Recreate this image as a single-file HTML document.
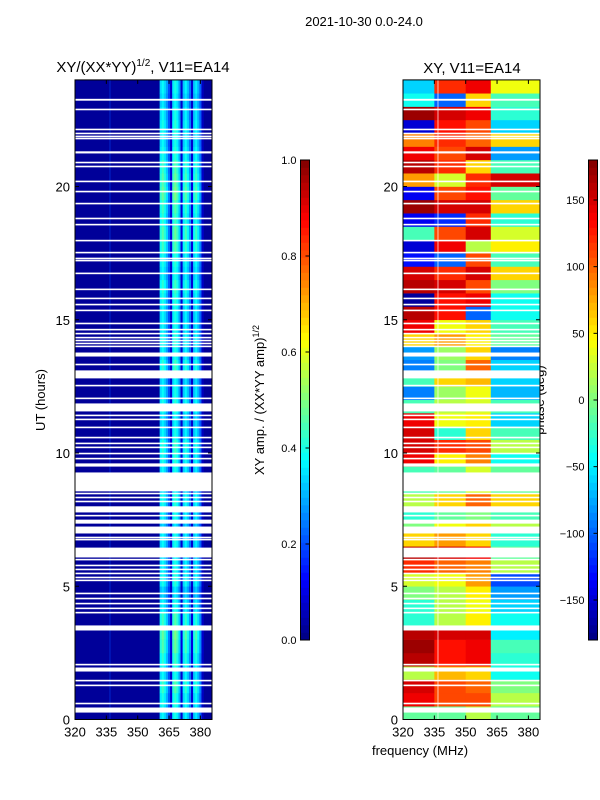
<!DOCTYPE html>
<html><head><meta charset="utf-8"><style>
body{margin:0;background:#fff;}
svg{display:block;font-family:"Liberation Sans",sans-serif;}
</style></head><body>
<svg id="fig" width="600" height="800" xmlns="http://www.w3.org/2000/svg">
<text x="364" y="26" font-size="13" text-anchor="middle">2021-10-30 0.0-24.0</text>
<text x="143" y="72" font-size="15" text-anchor="middle">XY/(XX*YY)<tspan font-size="10" dy="-6">1/2</tspan><tspan dy="6">, V11=EA14</tspan></text>
<text x="472" y="73" font-size="15" text-anchor="middle">XY, V11=EA14</text>
<text transform="translate(45,400) rotate(-90)" font-size="13" text-anchor="middle">UT (hours)</text>
<text x="420" y="755" font-size="13" text-anchor="middle">frequency (MHz)</text>
<text transform="translate(264,400) rotate(-90)" font-size="13" text-anchor="middle">XY amp. / (XX*YY amp)<tspan font-size="9" dy="-5">1/2</tspan></text>
<text transform="translate(544,400) rotate(-90)" font-size="13" text-anchor="middle">phase (deg)</text>
<g id="ampPanel"></g>
<g id="phasePanel"></g>
<g id="axes"></g>
<g id="cbars"></g>
</svg>
<script>
// ---- data ----
const gaps = [[23.22,23.29],[22.86,22.92],[22.11,22.17],[21.96,22.02],[21.85,21.91],[21.77,21.83],[21.24,21.32],[20.87,20.93],[20.72,20.78],[20.16,20.22],[19.78,19.84],[19.33,19.39],[18.77,18.83],[18.54,18.6],[17.94,18.0],[17.49,17.55],[17.27,17.33],[17.19,17.25],[16.71,16.77],[16.11,16.17],[15.77,15.83],[15.54,15.6],[15.32,15.38],[14.83,14.89],[14.6,14.66],[14.45,14.51],[14.3,14.36],[14.19,14.25],[14.08,14.14],[13.97,14.03],[13.62,13.77],[13.29,13.35],[12.8,13.1],[12.5,12.56],[12.02,12.08],[11.56,11.86],[11.38,11.44],[11.23,11.29],[10.93,10.99],[10.55,10.61],[10.33,10.39],[10.18,10.24],[9.95,10.01],[9.76,9.82],[9.49,9.61],[8.56,9.27],[8.45,8.51],[8.3,8.36],[8.15,8.21],[7.77,8.0],[7.62,7.68],[7.35,7.5],[6.98,7.24],[6.8,6.86],[6.72,6.78],[6.08,6.45],[5.97,6.03],[5.75,5.81],[5.6,5.66],[5.45,5.51],[5.3,5.36],[5.19,5.25],[4.7,4.76],[4.51,4.57],[4.32,4.38],[4.14,4.2],[3.98,4.04],[3.34,3.53],[2.03,2.09],[1.8,1.95],[1.43,1.49],[1.25,1.31],[0.57,0.63],[0.26,0.45]];
const ampChannels = [361,362,363,364,365,366,367,368,369,370,371,372,373,374,375,376,377,378,379,380,381];
const ampProfile = [0.34,0.38,0.34,0.28,0.2,0.08,0.36,0.4,0.36,0.28,0.08,0.32,0.37,0.32,0.24,0.08,0.32,0.36,0.3,0.22,0.06];
const ampBackground = 0.025;
// per half-hour block, 0h upward
const ampTimeFactor = [1.0,1.05,1.15,1.0,1.1,1.2,1.25,1.15,1.0,0.9,1.05,1.0,0.95,1.0,0.9,1.0,1.05,0.95,1.0,1.05,1.1,1.0,0.95,1.05,1.0,0.95,1.1,1.0,1.05,1.0,1.0,1.05,1.1,1.0,1.05,1.15,1.2,1.1,1.15,1.25,1.2,1.15,1.05,1.0,1.05,1.0,0.95,1.0];
const phaseSegments = [[320,335],[335,350],[350,362],[362,385.5]];
// phase (deg) per half-hour block (0h upward) per segment
const phaseRows = [
[-10,-10,20,-10],[140,110,110,20],[150,110,100,0],[20,70,60,-40],[160,130,140,-30],[170,130,140,-20],[160,150,150,-50],[-30,20,50,-40],
[-30,20,40,-60],[0,20,50,-80],[30,40,80,-110],[120,100,90,20],[160,150,140,-10],[60,80,60,-30],[0,40,60,20],[-30,-10,0,-20],
[20,60,100,60],[-20,-10,30,-10],[-20,-10,30,-10],[140,50,90,-40],[150,120,110,20],[150,-30,60,-20],[140,40,50,-60],[-20,20,30,-20],
[-90,10,40,-70],[-20,60,70,-60],[-90,0,100,-60],[-80,10,60,-90],[60,80,50,-10],[140,40,60,-20],[160,130,-100,-40],[-170,130,140,-40],
[160,150,110,0],[150,120,150,60],[-130,-100,110,-20],[-150,140,20,50],[-20,110,150,30],[-140,-120,120,-30],[170,150,150,60],[-140,110,130,-10],
[80,30,120,150],[160,120,60,-20],[140,110,150,-80],[90,120,100,60],[-150,130,110,-60],[170,150,140,-30],[-40,-100,60,-20],[-60,120,140,40]];
const yTicks = [0,5,10,15,20];
const xTicks = [320,335,350,365,380];
const ampCbTicks = [0.0,0.2,0.4,0.6,0.8,1.0];
const phaseCbTicks = [-150,-100,-50,0,50,100,150];

// ---- helpers ----
const NS = "http://www.w3.org/2000/svg";
function jet(v){v=Math.max(0,Math.min(1,v));const c=x=>Math.round(255*Math.max(0,Math.min(1,1.5-Math.abs(4*v-x))));return `rgb(${c(3)},${c(2)},${c(1)})`;}
function mk(tag,attrs,parent){const e=document.createElementNS(NS,tag);for(const k in attrs)e.setAttribute(k,attrs[k]);parent.appendChild(e);return e;}
const Y0=719.5, HPX=26.65;
const yS = h => Y0 - h*HPX;
const axL = {x0:75, x1:212}, axR = {x0:403, x1:540};
const xS = (ax,f) => ax.x0 + (f-320)*2.09;

const ampG = document.getElementById('ampPanel');
const phG = document.getElementById('phasePanel');
let bg = mk('rect',{x:axL.x0,y:yS(24),width:axL.x1-axL.x0,height:yS(0)-yS(24),fill:jet(ampBackground)},ampG);


ampTimeFactor.forEach((tf,ti)=>{
  ampChannels.forEach((ch,ci)=>{
    const v = ampProfile[ci]*tf;
    const r = mk('rect',{x:xS(axL,ch-0.5).toFixed(2),y:yS((ti+1)*0.5).toFixed(2),width:(2.09+0.3).toFixed(2),height:(HPX*0.5+0.3).toFixed(2),fill:jet(v)},ampG);
    
    
  });
});
let vl = mk('rect',{x:xS(axL,336.5),y:yS(24),width:1,height:yS(0)-yS(24),fill:jet(0.2),opacity:0.5},ampG);


phaseRows.forEach((row,ti)=>{
  row.forEach((p,si)=>{
    const s = phaseSegments[si];
    const x0 = xS(axR,s[0]), x1 = Math.min(xS(axR,s[1]),axR.x1);
    const r = mk('rect',{x:x0.toFixed(2),y:yS((ti+1)*0.5).toFixed(2),width:(x1-x0+0.3).toFixed(2),height:(HPX*0.5+0.3).toFixed(2),fill:jet((p+180)/360)},phG);
    
    
  });
});
let vl2 = mk('rect',{x:xS(axR,336.5),y:yS(24),width:1,height:yS(0)-yS(24),fill:'#fff',opacity:0.7},phG);


[[axL,ampG],[axR,phG]].forEach(([ax,g])=>{
  gaps.forEach(gp=>{
    const r = mk('rect',{x:ax.x0,y:yS(gp[1]).toFixed(2),width:ax.x1-ax.x0,height:Math.max(1.4,yS(gp[0])-yS(gp[1])).toFixed(2),fill:'#fff'},g);
    
    
  });
});
const axG = document.getElementById('axes');
[axL,axR].forEach((ax,ai)=>{
  const f = mk('rect',{x:ax.x0,y:yS(24),width:ax.x1-ax.x0,height:yS(0)-yS(24),fill:'none',stroke:'#000','stroke-width':1},axG);
  
  
  yTicks.forEach(t=>{
    const y=yS(t);
    mk('line',{x1:ax.x0,x2:ax.x0+4,y1:y,y2:y,stroke:'#000'},axG);
    mk('line',{x1:ax.x1,x2:ax.x1-4,y1:y,y2:y,stroke:'#000'},axG);
    const tx = mk('text',{x:ax.x0-5,y:y+5,'font-size':13,'text-anchor':'end'},axG);
    tx.textContent=t;
    
    
  });
  xTicks.forEach(t=>{
    const x=xS(ax,t);
    mk('line',{x1:x,x2:x,y1:yS(0),y2:yS(0)-4,stroke:'#000'},axG);
    mk('line',{x1:x,x2:x,y1:yS(24),y2:yS(24)+4,stroke:'#000'},axG);
    const tx = mk('text',{x:x,y:yS(0)+17,'font-size':13,'text-anchor':'middle'},axG);
    tx.textContent=t;
    
    
  });
});
const cbG = document.getElementById('cbars');
function colorbar(x, lo, hi, ticks, name){
  const top=160, bot=640, n=64, h=(bot-top)/n;
  for(let i=0;i<n;i++){
    const r=mk('rect',{x:x,y:(bot-(i+1)*h).toFixed(2),width:9,height:(h+0.3).toFixed(2),fill:jet((i+0.5)/n)},cbG);
    
    
  }
  const fr=mk('rect',{x:x,y:top,width:9,height:bot-top,fill:'none',stroke:'#000','stroke-width':1},cbG);
  
  
  ticks.forEach(t=>{
    const y = bot - (t-lo)/(hi-lo)*(bot-top);
    mk('line',{x1:x+9,x2:x+5,y1:y,y2:y,stroke:'#000'},cbG);
    const tx=mk('text',{x:x-4,y:y+4,'font-size':11,'text-anchor':'end'},cbG);
    tx.textContent = (lo===0)? t.toFixed(1) : (t<0?'\u2212'+(-t):t);
    
    
  });
}
colorbar(300.5,0,1,ampCbTicks,'amp-colorbar');
colorbar(588.5,-180,180,phaseCbTicks,'phase-colorbar');
</script>
</body></html>
